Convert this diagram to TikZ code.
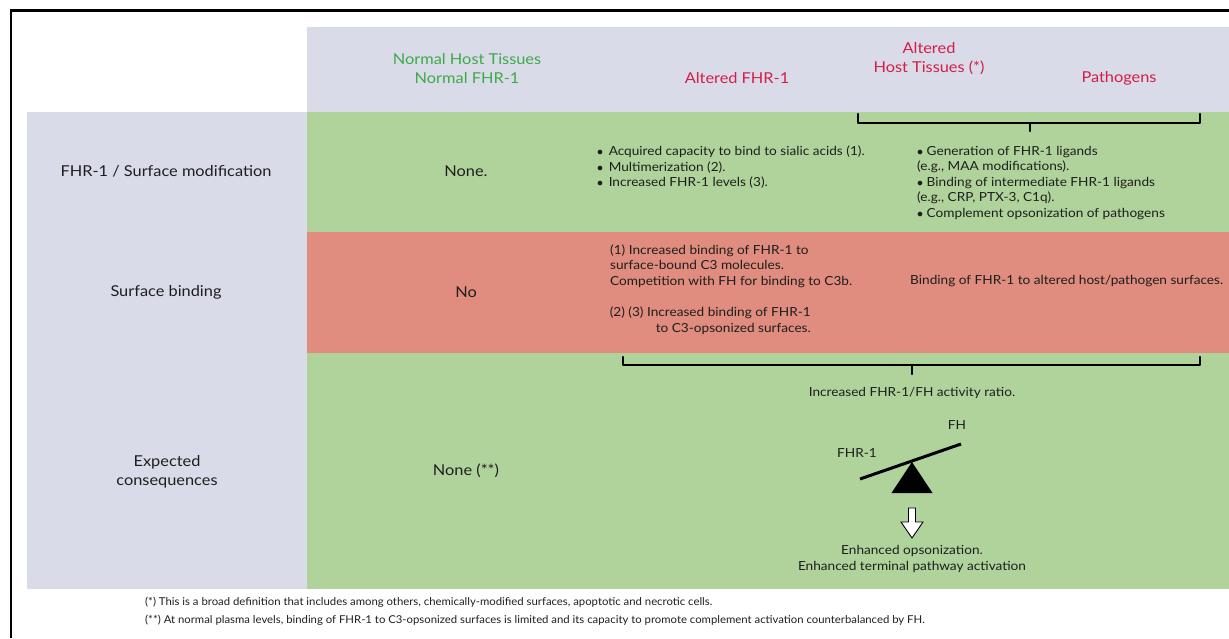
\documentclass[tikz,border=0pt]{standalone}
\usepackage{fontspec}
\setmainfont{Lato}[FakeStretch=1.09]
\newfontfamily\notefont{Lato}[FakeStretch=1.05]
\definecolor{lav}{RGB}{217,219,232}
\definecolor{grn}{RGB}{176,211,156}
\definecolor{rd}{RGB}{224,140,126}
\definecolor{hgreen}{RGB}{62,170,72}
\definecolor{hred}{RGB}{212,30,72}
\definecolor{txt}{RGB}{30,30,30}
\tikzset{
  hdr/.style={font=\fontsize{15}{19}\selectfont, align=center, inner sep=0pt},
  lbl/.style={font=\fontsize{15}{19}\selectfont, text=txt, align=center, inner sep=0pt},
  body/.style={font=\fontsize{12.5}{15.5}\selectfont, text=txt, inner sep=0pt},
  note/.style={font=\notefont\fontsize{10.8}{12}\selectfont, text=txt, anchor=west, inner sep=0pt},
  brace/.style={line width=2.6pt, line cap=round, line join=round},
}
\begin{document}
\begin{tikzpicture}[x=1pt,y=-1pt]
\useasboundingbox (0,0) rectangle (1229,638);
\fill[white] (0,0) rectangle (1229,638);
% bands
\fill[lav] (307,27) rectangle (1229,112);
\fill[lav] (27,112) rectangle (307,589);
\fill[grn] (307,112) rectangle (1229,232);
\fill[rd] (307,232) rectangle (1229,353);
\fill[grn] (307,353) rectangle (1229,589);
% frame
\draw[line width=2.4pt] (11,638) -- (11,10.5) -- (1229,10.5);
% headers
\node[hdr, text=hgreen] (h1) at (467,69) {Normal Host Tissues\\Normal FHR-1};
\node[hdr, text=hred] (h2) at (737,78) {Altered FHR-1};
\node[hdr, text=hred] (h3) at (929,58.5) {Altered\\Host Tissues (*)};
\node[hdr, text=hred] (h4) at (1119,78) {Pathogens};
% row labels
\node[lbl] (r1) at (166,171) {FHR-1 / Surface modification};
\node[lbl] (r2) at (166,292) {Surface binding};
\node[lbl] (r3) at (167,471.5) {Expected\\consequences};
% normal column
\node[lbl] (n1) at (466,171) {None.};
\node[lbl] (n2) at (466,292) {No};
\node[lbl] (n3) at (466,471) {None (**)};
% row 1
\node[body, anchor=west, align=left] (a1) at (597,167.5) {%
$\bullet$\, Acquired capacity to bind to sialic acids (1).\\
$\bullet$\, Multimerization (2).\\
$\bullet$\, Increased FHR-1 levels (3).};
\node[body, anchor=west, align=left] (a2) at (917,183) {%
$\bullet$ Generation of FHR-1 ligands\\
(e.g., MAA modifications).\\
$\bullet$ Binding of intermediate FHR-1 ligands\\
(e.g., CRP, PTX-3, C1q).\\
$\bullet$ Complement opsonization of pathogens};
% row 2
\node[body, anchor=west, align=left] (b1) at (610,266) {%
(1) Increased binding of FHR-1 to\\
surface-bound C3 molecules.\\
Competition with FH for binding to C3b.};
\node[body, anchor=east, align=right] (b2) at (811,320.5) {%
(2) (3) Increased binding of FHR-1\\
to C3-opsonized surfaces.};
\node[body, anchor=west] (b3) at (910,281) {Binding of FHR-1 to altered host/pathogen surfaces.};
% brackets
\draw[brace] (858,114) -- (858,123) -- (1200,123) -- (1200,114);
\draw[brace] (1030,123) -- (1030,131);
\draw[brace] (623,357) -- (623,365) -- (1200,365) -- (1200,357);
\draw[brace] (912,365) -- (912,374);
% row 3
\node[body] (c1) at (912,393) {Increased FHR-1/FH activity ratio.};
\node[body, anchor=base] (fh) at (957,429) {FH};
\node[body, anchor=base] (fhr) at (857,457) {FHR-1};
\coordinate (sl) at (860,479);
\coordinate (sr) at (961,444);
\draw[line width=3pt] (sl) -- (sr);
\fill[black] (912,462) -- (932.5,493) -- (891.5,493) -- cycle;
\draw[fill=white, line width=0.9pt] (908.5,508) -- (915.5,508) -- (915.5,522) -- (923,522) -- (912,538) -- (901,522) -- (908.5,522) -- cycle;
\node[body, align=center] (c2) at (912,559) {Enhanced opsonization.\\Enhanced terminal pathway activation};
% footnotes
\node[note] (f1) at (145,602) {(*) This is a broad definition that includes among others, chemically-modified surfaces, apoptotic and necrotic cells.};
\node[note] (f2) at (145,620) {(**) At normal plasma levels, binding of FHR-1 to C3-opsonized surfaces is limited and its capacity to promote complement activation counterbalanced by FH.};
\end{tikzpicture}
\end{document}
